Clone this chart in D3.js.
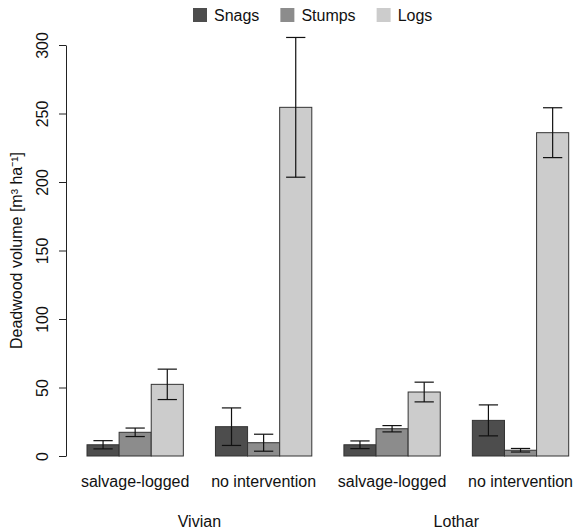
<!DOCTYPE html>
<html>
<head>
<meta charset="utf-8">
<script src="https://cdn.jsdelivr.net/npm/d3@7"></script>
<style>
  body { margin: 0; background: #fff; }
  text { font-family: "Liberation Sans", Arial, sans-serif; }
</style>
</head>
<body>
<div id="chart"></div>
<script>
// data
var sites = ["Vivian", "Lothar"];
var treatments = ["salvage-logged", "no intervention"];
var series = ["Snags", "Stumps", "Logs"];
var colors = ["#4d4d4d", "#8c8c8c", "#cccccc"];

var snags    = [8.2, 21.4, 8.2, 26.0];
var snagsSE  = [3.0, 13.7, 2.8, 11.3];
var stumps   = [17.3, 9.7, 19.9, 4.2];
var stumpsSE = [3.1, 6.2, 2.3, 1.3];
var logs     = [52.3, 254.5, 46.7, 236.0];
var logsSE   = [11.1, 51.0, 7.2, 18.2];

var yTicks = [0, 50, 100, 150, 200, 250, 300];

var width = 576, height = 530;

var svg = d3.select("#chart")
    .append("svg")
    .attr("width", width)
    .attr("height", height);

// one group per site x treatment
var groups = [];
sites.forEach(function(s) {
    treatments.forEach(function(t) { groups.push(s + "|" + t); });
});

var values = [snags, stumps, logs];
var errors = [snagsSE, stumpsSE, logsSE];
var bars = [];
groups.forEach(function(g, i) {
    series.forEach(function(k, j) {
        bars.push({group: g, key: k, value: values[j][i], se: errors[j][i], color: colors[j]});
    });
});

var x = d3.scaleBand()
    .domain(groups)
    .range([87, 568.7])
    .paddingInner(0.25)
    .paddingOuter(0);

var xs = d3.scaleBand()
    .domain(series)
    .range([0, x.bandwidth()])
    .padding(0);

var y = d3.scaleLinear()
    .domain([0, 300])
    .range([456, 45]);

// bars
svg.selectAll("rect.bar")
    .data(bars)
    .enter()
    .append("rect")
    .attr("class", "bar")
    .attr("x", function(d) { return x(d.group) + xs(d.key); })
    .attr("y", function(d) { return y(d.value); })
    .attr("width", xs.bandwidth())
    .attr("height", function(d) { return y(0) - y(d.value); })
    .style("fill", function(d) { return d.color; })
    .style("stroke", "#333")
    .style("stroke-width", 1);

// error bars
var capW = xs.bandwidth() * 0.6;
var eb = svg.selectAll("g.err")
    .data(bars)
    .enter()
    .append("g")
    .attr("class", "err")
    .attr("transform", function(d) {
        return "translate(" + (x(d.group) + xs(d.key) + xs.bandwidth() / 2) + ",0)";
    })
    .style("stroke", "#111")
    .style("stroke-width", 1.2);

eb.append("line")
    .attr("y1", function(d) { return y(d.value + d.se); })
    .attr("y2", function(d) { return y(d.value - d.se); });
eb.append("line")
    .attr("x1", -capW / 2).attr("x2", capW / 2)
    .attr("y1", function(d) { return y(d.value + d.se); })
    .attr("y2", function(d) { return y(d.value + d.se); });
eb.append("line")
    .attr("x1", -capW / 2).attr("x2", capW / 2)
    .attr("y1", function(d) { return y(d.value - d.se); })
    .attr("y2", function(d) { return y(d.value - d.se); });

// y axis
var yAxis = svg.append("g")
    .attr("transform", "translate(66,0)")
    .call(d3.axisLeft(y).tickValues(yTicks).tickSize(7).tickSizeOuter(0));
yAxis.select(".domain").style("stroke", "#222");
yAxis.selectAll(".tick line").style("stroke", "#222");
yAxis.selectAll(".tick text")
    .attr("x", null).attr("dy", null)
    .attr("transform", "translate(-24,0) rotate(-90)")
    .attr("text-anchor", "middle")
    .attr("dominant-baseline", "central")
    .style("font-size", "16px")
    .style("fill", "#111");

svg.append("text")
    .attr("transform", "translate(16," + ((y(0) + y(300)) / 2) + ") rotate(-90)")
    .attr("text-anchor", "middle")
    .attr("dominant-baseline", "central")
    .style("font-size", "16px")
    .style("fill", "#111")
    .text("Deadwood volume [m\u00b3 ha\u207b\u00b9]");

// treatment labels
svg.selectAll("text.treat")
    .data(groups)
    .enter()
    .append("text")
    .attr("class", "treat")
    .attr("x", function(g) { return x(g) + x.bandwidth() / 2; })
    .attr("y", 487)
    .attr("text-anchor", "middle")
    .style("font-size", "16px")
    .style("fill", "#111")
    .text(function(g) { return g.split("|")[1]; });

// site labels, centred under their two groups
svg.selectAll("text.site")
    .data(sites)
    .enter()
    .append("text")
    .attr("class", "site")
    .attr("x", function(s) {
        var a = x(s + "|" + treatments[0]);
        var b = x(s + "|" + treatments[1]) + x.bandwidth();
        return (a + b) / 2;
    })
    .attr("y", 527)
    .attr("text-anchor", "middle")
    .style("font-size", "16px")
    .style("fill", "#111")
    .text(function(s) { return s; });

// legend
var legend = svg.append("g");
var cx = 193;
series.forEach(function(k, j) {
    legend.append("rect")
        .attr("x", cx).attr("y", 8)
        .attr("width", 14).attr("height", 14)
        .style("fill", colors[j]);
    var t = legend.append("text")
        .attr("x", cx + 21).attr("y", 20.5)
        .style("font-size", "16px")
        .style("fill", "#111")
        .text(k);
    cx += 21 + t.node().getComputedTextLength() + 21;
});
</script>
</body>
</html>
